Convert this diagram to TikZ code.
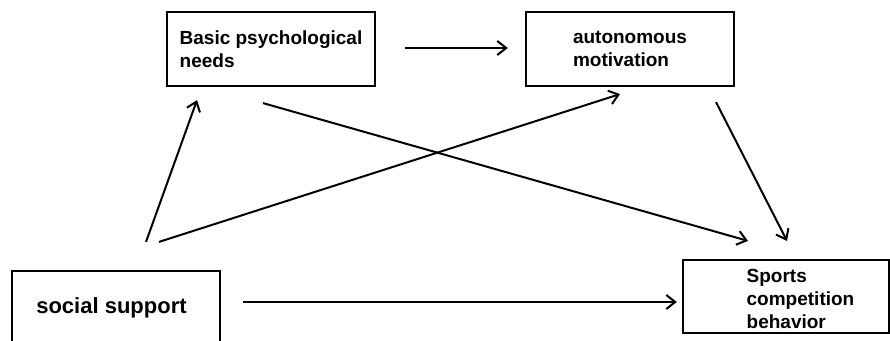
\documentclass[tikz,border=0pt]{standalone}
\usepackage{fontspec}
\setmainfont{Liberation Sans}
\usetikzlibrary{arrows.meta}

\tikzstyle{box}=[%
	draw, line width = 2.2pt, inner sep = 0pt,
	minimum width = 208pt, minimum height = 74pt,
	font = \bfseries\fontsize{19}{22.5}\selectfont
]
\tikzstyle{link}=[%
	line width = 2pt,
	-{Straight Barb[length=9pt, width=14pt]}
]

\begin{document}
\begin{tikzpicture}[x=1pt, y=1pt]
	% Background, frame
	\draw[draw=none, fill=white] (0,0) rectangle (890,340);
	\useasboundingbox (0,0) rectangle (890,340);

	% Boxes
	\node[box, align=left] (needs) at (271,291) {Basic psychological\\needs};
	\node[box, align=left] (motiv) at (630,291) {autonomous\\motivation};
	\node[box, font=\bfseries\fontsize{22}{26}\selectfont] (support) at (116,32)
		{\hspace*{-9pt}social support};
	\node[box, minimum width=206pt, minimum height=73pt, text height=22pt, text depth=51pt,
		font=\bfseries\fontsize{19}{23}\selectfont] (behav) at (786,43.5)
		{\hspace*{29pt}\begin{tabular}[t]{@{}l@{}}Sports\\competition\\behavior\end{tabular}};

	% Arrows
	\draw[link] ([shift={(29,1)}]needs.east) -- ([shift={(-17,1)}]motiv.west);
	\draw[link] ([shift={(30,28)}]support.north) -- ([shift={(-74,-13)}]needs.south);
	\draw[link] ([shift={(43,28)}]support.north) -- ([shift={(-10,-7)}]motiv.south);
	\draw[link] ([shift={(-8,-16)}]needs.south) -- ([shift={(-38,18)}]behav.north);
	\draw[link] ([shift={(86,-15)}]motiv.south) -- ([shift={(1,18)}]behav.north);
	\draw[link] ([shift={(22,6)}]support.east) -- ([shift={(-5,-5.5)}]behav.west);

\end{tikzpicture}
\end{document}
